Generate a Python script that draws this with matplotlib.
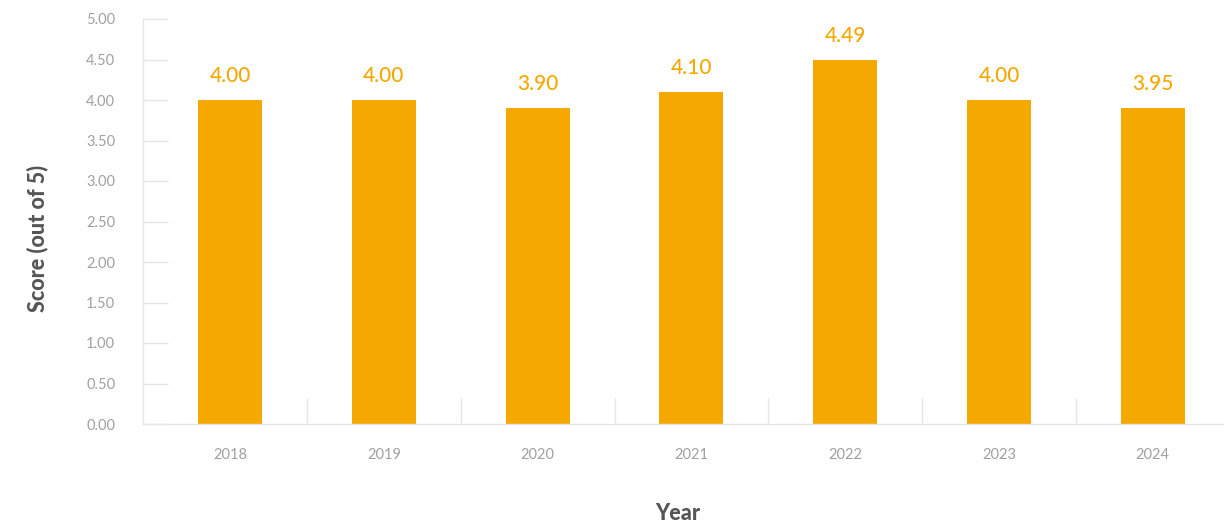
import matplotlib
matplotlib.use("Agg")
import matplotlib.pyplot as plt

years = ["2018", "2019", "2020", "2021", "2022", "2023", "2024"]
scores = [4.00, 4.00, 3.90, 4.10, 4.49, 4.00, 3.90]
score_labels = ["4.00", "4.00", "3.90", "4.10", "4.49", "4.00", "3.95"]
yticks = [0.0, 0.5, 1.0, 1.5, 2.0, 2.5, 3.0, 3.5, 4.0, 4.5, 5.0]

plt.rcParams['font.family'] = ['Lato', 'DejaVu Sans']

W, H = 1224, 527
fig = plt.figure(figsize=(W / 100, H / 100), dpi=100)
ax = fig.add_axes([143 / W, (H - 424) / H, (1224 - 143) / W, 405 / H])

bar_color = "#F5A800"
x = list(range(len(years)))
ax.bar(x, scores, width=0.416, color=bar_color, zorder=2)
for xi, v, lab in zip(x, scores, score_labels):
    ax.annotate(lab, (xi, v), xytext=(0, 10), textcoords="offset points",
                ha="center", va="bottom", color=bar_color, fontsize=15,
                fontweight="medium")

ax.set_xlim((143 - 230) / 153.8, (1224 - 230) / 153.8)
ax.set_ylim(0, 5)
ax.set_yticks(yticks)
ax.set_yticklabels([f"{t:.2f}" for t in yticks])
ax.set_xticks(x)
ax.set_xticklabels(years)
ax.set_xticks([i + 0.5 for i in range(len(years) - 1)], minor=True)

grid_c = "#E6E6E6"
ax.tick_params(axis="y", direction="in", length=18, width=1, color=grid_c,
               pad=20, labelsize=10.5, labelcolor="#A0A0A0")
ax.tick_params(axis="x", which="major", length=0, pad=17, labelsize=10.5,
               labelcolor="#A0A0A0")
ax.tick_params(axis="x", which="minor", direction="in", length=19, width=1,
               color=grid_c)

for s in ["top", "right"]:
    ax.spines[s].set_visible(False)
for s in ["left", "bottom"]:
    ax.spines[s].set_color(grid_c)
    ax.spines[s].set_linewidth(1)

fig.text(37 / W, 1 - 238 / H, "Score (out of 5)", rotation=90, ha="center",
         va="center", fontsize=15.5, fontweight="black", color="#555555")
fig.text(678 / W, 1 - 514 / H, "Year", ha="center", va="center",
         fontsize=15.5, fontweight="black", color="#555555")

fig.savefig("out.png", dpi=100)
